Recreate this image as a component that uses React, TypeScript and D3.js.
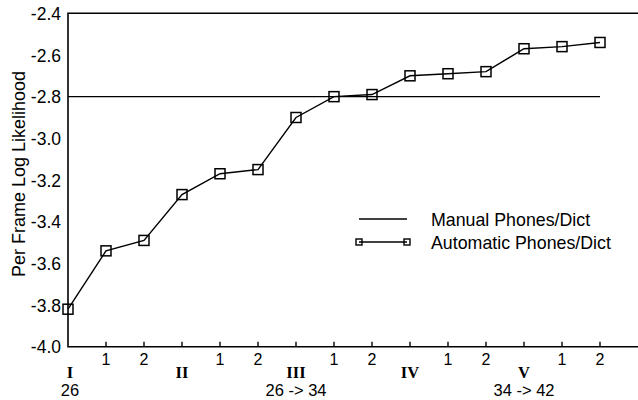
import { useEffect, useRef } from 'react'
import * as d3 from 'd3'

const automatic = [-3.82, -3.54, -3.49, -3.27, -3.17, -3.15, -2.9, -2.8, -2.79, -2.7, -2.69, -2.68, -2.57, -2.56, -2.54]
const manualValue = -2.8
const yTicks = [-4.0, -3.8, -3.6, -3.4, -3.2, -3.0, -2.8, -2.6, -2.4]
const subTicks = ['', '1', '2', '', '1', '2', '', '1', '2', '', '1', '2', '', '1', '2']
const stages = [
  { at: 0, roman: 'I', size: '26' },
  { at: 3, roman: 'II', size: '' },
  { at: 6, roman: 'III', size: '26 -> 34' },
  { at: 9, roman: 'IV', size: '' },
  { at: 12, roman: 'V', size: '34 -> 42' },
]
const legendItems = ['Manual Phones/Dict', 'Automatic Phones/Dict']

const W = 638
const H = 400
const sans = '"Liberation Sans", Arial, Helvetica, sans-serif'
const serif = '"Liberation Serif", "Times New Roman", serif'

export default function App() {
  const svgRef = useRef<SVGSVGElement>(null)

  useEffect(() => {
    const svg = d3.select(svgRef.current)
    svg.selectAll('*').remove()

    const x = d3.scaleLinear().domain([0, 15]).range([68, 638])
    const y = d3.scaleLinear().domain([-4.0, -2.4]).range([346.7, 13.3])
    const g = svg.append('g')

    // frame: left, top, bottom
    g.append('path')
      .attr('d', `M${x(15)},${y(-2.4)}H${x(0)}V${y(-4.0)}H${x(15)}`)
      .attr('fill', 'none')
      .attr('stroke', '#000')
      .attr('stroke-width', 1.6)

    // x ticks
    g.append('g')
      .selectAll('line')
      .data(d3.range(1, 15))
      .join('line')
      .attr('x1', d => x(d))
      .attr('x2', d => x(d))
      .attr('y1', y(-4.0))
      .attr('y2', y(-4.0) - 5)
      .attr('stroke', '#000')
      .attr('stroke-width', 1.4)

    g.append('g')
      .selectAll('text')
      .data(subTicks.map((t, i) => ({ t, i })).filter(d => d.t))
      .join('text')
      .attr('x', d => x(d.i))
      .attr('y', 364.5)
      .attr('text-anchor', 'middle')
      .attr('font-family', sans)
      .attr('font-size', 16)
      .text(d => d.t)

    g.append('g')
      .selectAll('text')
      .data(stages)
      .join('text')
      .attr('x', d => x(d.at) + (d.at === 0 ? 2 : 0))
      .attr('y', 378)
      .attr('text-anchor', 'middle')
      .attr('font-family', serif)
      .attr('font-weight', 'bold')
      .attr('font-size', 16.5)
      .text(d => d.roman)

    g.append('g')
      .selectAll('text')
      .data(stages.filter(d => d.size))
      .join('text')
      .attr('x', d => x(d.at) + (d.at === 0 ? 2 : 0))
      .attr('y', 396)
      .attr('text-anchor', 'middle')
      .attr('font-family', sans)
      .attr('font-size', 16.5)
      .text(d => d.size)

    // y ticks
    g.append('g')
      .selectAll('text')
      .data(yTicks)
      .join('text')
      .attr('x', 61)
      .attr('y', d => y(d))
      .attr('dy', '0.38em')
      .attr('text-anchor', 'end')
      .attr('font-family', sans)
      .attr('font-size', 17.5)
      .text(d => d.toFixed(1))

    g.append('text')
      .attr('transform', `translate(25,174) rotate(-90)`)
      .attr('text-anchor', 'middle')
      .attr('font-family', sans)
      .attr('font-size', 18)
      .text('Per Frame Log Likelihood')

    // manual line
    g.append('line')
      .attr('x1', x(0))
      .attr('x2', x(14))
      .attr('y1', y(manualValue))
      .attr('y2', y(manualValue))
      .attr('stroke', '#000')
      .attr('stroke-width', 1.3)

    // automatic series
    const line = d3.line<number>().x((_, i) => x(i)).y(d => y(d))
    g.append('path')
      .datum(automatic)
      .attr('d', line)
      .attr('fill', 'none')
      .attr('stroke', '#000')
      .attr('stroke-width', 1.4)

    const s = 10
    g.append('g')
      .selectAll('rect')
      .data(automatic)
      .join('rect')
      .attr('x', (_, i) => x(i) - s / 2)
      .attr('y', d => y(d) - s / 2)
      .attr('width', s)
      .attr('height', s)
      .attr('fill', 'none')
      .attr('stroke', '#000')
      .attr('stroke-width', 1.5)

    // legend
    const lg = g.append('g')
    lg.selectAll('line')
      .data(legendItems)
      .join('line')
      .attr('x1', 359)
      .attr('x2', 407)
      .attr('y1', (_, i) => 219 + i * 23)
      .attr('y2', (_, i) => 219 + i * 23)
      .attr('stroke', '#000')
      .attr('stroke-width', 1.3)
    lg.selectAll('rect')
      .data([359, 407])
      .join('rect')
      .attr('x', d => d - 3)
      .attr('y', 242 - 3)
      .attr('width', 6)
      .attr('height', 6)
      .attr('fill', 'none')
      .attr('stroke', '#000')
      .attr('stroke-width', 1.4)
    lg.selectAll('text')
      .data(legendItems)
      .join('text')
      .attr('x', 431)
      .attr('y', (_, i) => 225.5 + i * 23.5)
      .attr('font-family', sans)
      .attr('font-size', 17.8)
      .text(d => d)
  }, [])

  return (
    <svg
      ref={svgRef}
      width={W}
      height={H}
      style={{ position: 'absolute', left: 0, top: 0, background: '#fff' }}
    />
  )
}
